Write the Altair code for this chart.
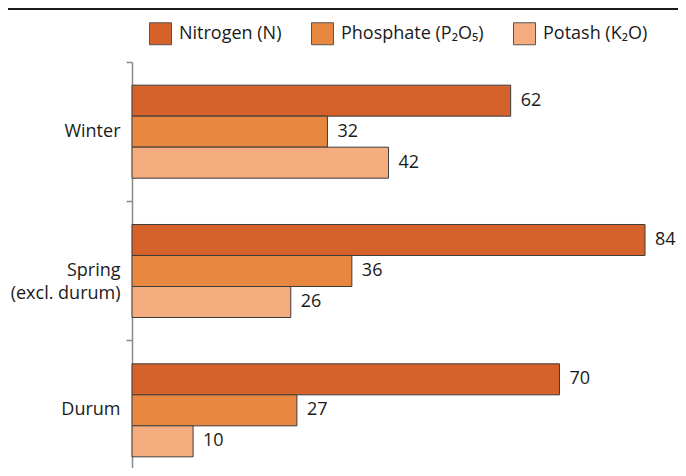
import altair as alt
import pandas as pd

crops = ["Winter", "Spring (excl. durum)", "Durum"]
nutrients = ["Nitrogen (N)", "Phosphate (P₂O₅)", "Potash (K₂O)"]
nitrogen = [62, 84, 70]
phosphate = [32, 36, 27]
potash = [42, 26, 10]
colors = ["#D4622A", "#E8873F", "#F5AD7F"]

rows = []
for i, c in enumerate(crops):
    for n, vals in zip(nutrients, [nitrogen, phosphate, potash]):
        rows.append({"crop": c, "nutrient": n, "value": vals[i]})
df = pd.DataFrame(rows)

FONT = "Open Sans"

y_enc = alt.Y(
    "crop:N",
    sort=crops,
    scale=alt.Scale(range=[0, 418], paddingInner=0, paddingOuter=0),
    axis=alt.Axis(
        title=None,
        bandPosition=0,
        tickSize=6,
        tickColor="#8a8a8a",
        tickWidth=1.5,
        domainColor="#8a8a8a",
        domainWidth=1.5,
        labelFont=FONT,
        labelFontSize=18,
        labelColor="#1a1a1a",
        labelPadding=6,
        labelLineHeight=23,
        labelExpr="datum.label == 'Spring (excl. durum)' ? ['Spring', '(excl. durum)'] : datum.label",
    ),
)
yoff_enc = alt.YOffset(
    "nutrient:N",
    sort=nutrients,
    scale=alt.Scale(paddingInner=0, paddingOuter=0.747),
)
x_enc = alt.X("value:Q", scale=alt.Scale(domain=[0, 89.4]), axis=None)

bars = alt.Chart(df).mark_bar(stroke="#3c3c3c", strokeWidth=1).encode(
    y=y_enc,
    yOffset=yoff_enc,
    x=x_enc,
    color=alt.Color(
        "nutrient:N",
        sort=nutrients,
        scale=alt.Scale(domain=nutrients, range=colors),
        legend=alt.Legend(
            title=None,
            orient="none",
            legendX=17,
            legendY=-40,
            direction="horizontal",
            columns=3,
            columnPadding=27,
            labelOffset=7,
            symbolType="square",
            symbolSize=484,
            symbolStrokeColor="#555555",
            symbolStrokeWidth=1,
            labelFont=FONT,
            labelFontSize=18,
            labelColor="#1a1a1a",
            padding=0,
        ),
    ),
)

labels = alt.Chart(df).mark_text(
    align="left", baseline="middle", dx=10, font=FONT, fontSize=18, color="#1a1a1a"
).encode(y=y_enc, yOffset=yoff_enc, x=x_enc, text="value:Q")

top_rule = alt.Chart(pd.DataFrame({"a": [0]})).mark_rule(
    color="#1a1a1a", strokeWidth=2
).encode(x=alt.value(-124), x2=alt.value(546), y=alt.value(-53))

chart = (
    alt.layer(top_rule, bars, labels)
    .properties(
        width=546,
        height=406,
        autosize=alt.AutoSizeParams(type="none"),
        padding={"left": 124, "top": 54, "right": 0, "bottom": 0},
    )
    .configure_view(stroke=None)
)

chart.save("out.html", embed_options={"renderer": "svg", "actions": False})
